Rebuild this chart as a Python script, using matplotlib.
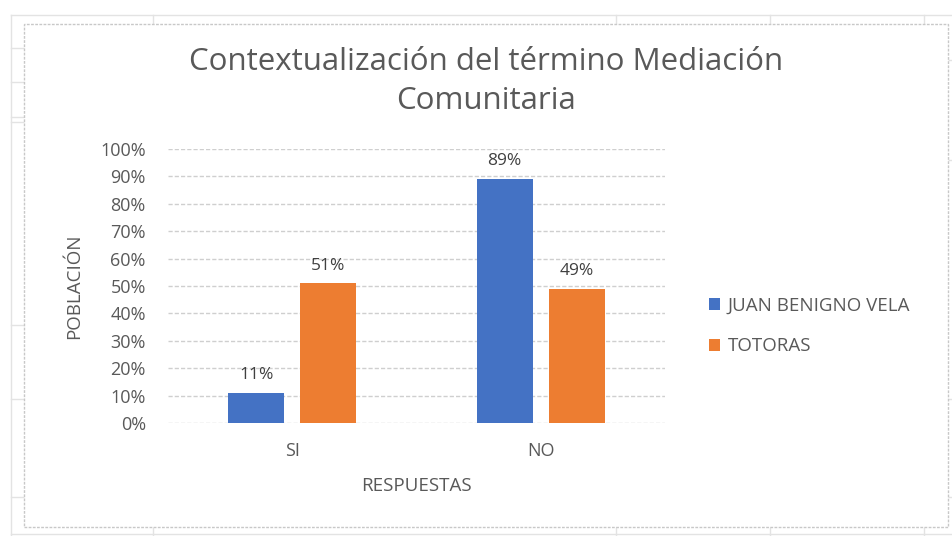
import matplotlib
matplotlib.use('Agg')
import matplotlib.pyplot as plt
from matplotlib.lines import Line2D
from matplotlib.patches import Rectangle
import numpy as np

plt.rcParams['font.family'] = ['Open Sans', 'DejaVu Sans']

categories = ['SI', 'NO']
series_names = ['JUAN BENIGNO VELA', 'TOTORAS']
juan_vals = [0.11, 0.89]
totoras_vals = [0.51, 0.49]
juan_labels = ['11%', '89%']
totoras_labels = ['51%', '49%']
yticks = np.arange(0, 1.01, 0.1)
ytick_labels = ['0%', '10%', '20%', '30%', '40%', '50%', '60%', '70%', '80%', '90%', '100%']

BLUE = '#4472C4'
ORANGE = '#ED7D31'
TXT = '#595959'
GRID = '#CFCFCF'

W, H = 952, 536
fig = plt.figure(figsize=(W / 100, H / 100), dpi=100)


def fx(px):
    return px / W


def fy(py):
    return 1 - py / H


# spreadsheet cells behind the chart
sheet = dict(color='#E3E3E3', lw=1.0, transform=fig.transFigure, zorder=-5)
fig.add_artist(Line2D([fx(11), fx(952)], [fy(15), fy(15)], **sheet))
fig.add_artist(Line2D([fx(11), fx(11)], [fy(15), fy(536)], **sheet))
fig.add_artist(Line2D([fx(11), fx(952)], [fy(534), fy(534)], **sheet))
for x in [153, 616, 770, 924]:
    fig.add_artist(Line2D([fx(x), fx(x)], [fy(15), fy(24)], **sheet))
    fig.add_artist(Line2D([fx(x), fx(x)], [fy(527), fy(536)], **sheet))
for y in [48, 82, 117, 122, 325, 399, 497]:
    fig.add_artist(Line2D([fx(11), fx(24)], [fy(y), fy(y)], **sheet))
for y in [60, 160, 399, 497]:
    fig.add_artist(Line2D([fx(948), fx(952)], [fy(y), fy(y)], **sheet))

# chart area
fig.add_artist(Rectangle((fx(24), fy(527)), fx(948) - fx(24), fy(24) - fy(527),
                         transform=fig.transFigure, facecolor='white',
                         edgecolor='#C8C8C8', lw=1.0, ls=(0, (2, 1)), zorder=-4))

ax = fig.add_axes([fx(168), fy(423), fx(665) - fx(168), fy(149) - fy(423)])
ax.set_facecolor('none')
ax.set_zorder(2)

x = np.arange(len(categories))
bw = 0.225
off = 0.145
b1 = ax.bar(x - off, juan_vals, bw, color=BLUE, label=series_names[0], zorder=3)
b2 = ax.bar(x + off, totoras_vals, bw, color=ORANGE, label=series_names[1], zorder=3)

for bars, labels in [(b1, juan_labels), (b2, totoras_labels)]:
    for rect, lab in zip(bars, labels):
        ax.annotate(lab, (rect.get_x() + rect.get_width() / 2, rect.get_height()),
                    xytext=(0, 7), textcoords='offset points', ha='center',
                    va='bottom', fontsize=12.5, color='#404040')

ax.set_xlim(-0.5, 1.5)
ax.set_ylim(0, 1.0)
ax.set_yticks(yticks)
ax.set_yticklabels(ytick_labels)
ax.set_xticks(x)
ax.set_xticklabels(categories)
ax.tick_params(axis='both', length=0, labelsize=13, labelcolor=TXT)
ax.tick_params(axis='y', pad=16)
ax.tick_params(axis='x', pad=14)
for s in ax.spines.values():
    s.set_visible(False)
ax.yaxis.grid(True, color=GRID, lw=1.0, ls=(0, (3, 1.5)), zorder=0)
ax.set_axisbelow(True)

ax.set_ylabel('POBLACIÓN', fontsize=13.5, color=TXT, labelpad=12)
ax.set_xlabel('RESPUESTAS', fontsize=13.5, color=TXT, labelpad=12)

fig.text(fx(486), fy(62), 'Contextualización del término Mediación', fontsize=22.5,
         color=TXT, ha='center', va='center')
fig.text(fx(486), fy(101), 'Comunitaria', fontsize=22.5, color=TXT,
         ha='center', va='center')

fig.legend(handles=[b1, b2], loc='center left',
           bbox_to_anchor=(fx(692), fy(326)), frameon=False, fontsize=13.5,
           labelcolor=TXT, handlelength=0.6, handleheight=0.6,
           handletextpad=0.4, labelspacing=1.2)

fig.savefig('out.png', dpi=100)
